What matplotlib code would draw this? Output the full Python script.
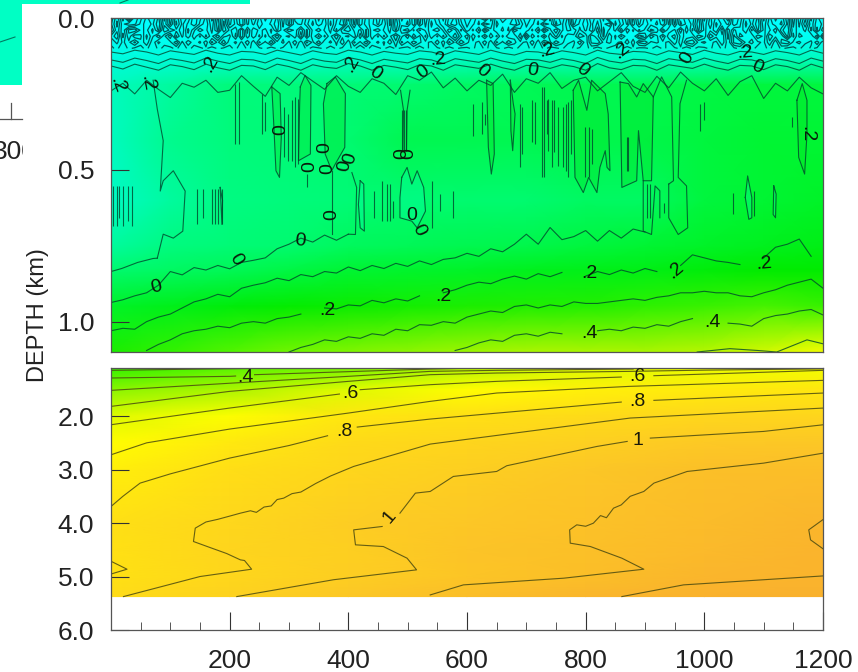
import numpy as np
import matplotlib
matplotlib.use('Agg')
import matplotlib.pyplot as plt
from matplotlib.colors import LinearSegmentedColormap, Normalize
from matplotlib.patches import Rectangle
from matplotlib.transforms import Bbox

plt.rcParams['font.family'] = ['Liberation Sans', 'DejaVu Sans']

W, H = 858, 672

# colour field, upper panel (depth in m, one row per depth, x every 100)
top_x = np.arange(0, 1201, 100)
top_depth = [0, 50, 90, 140, 220, 400, 600, 750, 830, 950, 1100]
top_field = [
    [-.5, -.5, -.5, -.5, -.5, -.5, -.5, -.5, -.5, -.5, -.5, -.5, -.5],
    [-.5, -.48, -.46, -.48, -.46, -.48, -.47, -.46, -.46, -.46, -.48, -.46, -.45],
    [-.42, -.38, -.38, -.38, -.36, -.38, -.36, -.36, -.36, -.36, -.36, -.36, -.36],
    [-.3, -.27, -.25, -.25, -.22, -.22, -.2, -.2, -.2, -.2, -.2, -.18, -.18],
    [-.2, -.12, -.03, -.03, -.02, .0, .02, .04, .05, .05, .07, .08, .08],
    [-.2, -.08, -.03, -.02, .0, .05, .05, .05, .06, .06, .08, .1, .1],
    [-.22, -.12, -.05, -.03, -.02, .0, .0, .0, .02, .02, .08, .1, .12],
    [-.12, -.04, -.02, .0, .03, .04, .05, .06, .08, .1, .12, .14, .16],
    [.0, .02, .04, .07, .1, .11, .12, .14, .15, .16, .18, .2, .2],
    [.12, .15, .18, .21, .23, .25, .27, .28, .29, .31, .33, .35, .33],
    [.27, .32, .37, .42, .44, .46, .48, .5, .5, .5, .52, .56, .62],
]

# colour field, lower panel (depth in km, x every 200)
low_x = np.arange(0, 1201, 200)
low_depth = [1.1, 1.5, 2.0, 2.5, 3.0, 4.0, 4.5, 5.0, 5.375]
low_field = [
    [.32, .38, .43, .52, .58, .60, .62],
    [.45, .50, .58, .66, .72, .75, .77],
    [.58, .64, .77, .81, .86, .90, .92],
    [.66, .76, .87, .92, .97, 1.03, 1.05],
    [.73, .83, .91, .98, 1.05, 1.1, 1.12],
    [.81, .90, 1.0, 1.05, 1.09, 1.14, 1.18],
    [.80, .92, .98, 1.07, 1.10, 1.15, 1.2],
    [.80, .90, .99, 1.06, 1.11, 1.18, 1.2],
    [.85, .95, 1.05, 1.12, 1.18, 1.24, 1.25],
]

# noisy near surface layer, one digit per 10 units of x
band_depth = [0, 20, 40, 60, 80, 100]
band_rows = [
    "2719036481927503618294071635829104736258190472618350927416830259174683025917480362519740826351907428163590274816350927164",
    "3820147592816304729185063746938215847169280563719460838527941360286795136028591473620851937462818539271460385927461839275",
    "1728956380247159638042917563840271695382046179538206147950382619475803261940587362914607385129460718352906471835920746182",
    "6917238405916273840561927384056291738405629173840592617384059261738450926173845029617384502961783450296718345029671834509",
    "4635847264593746285946372859463728594637285946372859643728596437285964372859643728956437289564372895643728956437289564372",
    "3424334243342433424334243342433424334243342433424334243342433424334243342433424334243342433424334243342433424334243342433",
]

wave1 = [112, 118, 106, 112, 122, 108, 114, 120, 106, 116, 122, 110, 112, 120, 106, 114, 122, 108, 116, 120, 106, 112, 122, 110, 116, 120, 108, 112, 122, 108, 114, 120, 106, 116, 122, 110, 112, 120, 108, 114, 122, 106, 116, 120, 110, 112, 122, 108, 114, 120, 106, 116, 122, 110, 112, 120, 108, 114, 122, 106, 116]
wave2 = [138, 146, 132, 140, 150, 134, 140, 148, 132, 142, 150, 136, 138, 148, 132, 140, 150, 134, 142, 146, 130, 138, 150, 136, 142, 148, 134, 138, 150, 134, 140, 146, 132, 142, 150, 136, 138, 146, 134, 140, 150, 130, 142, 148, 136, 138, 150, 134, 140, 146, 132, 142, 150, 136, 138, 148, 134, 140, 150, 132, 142]
wave3 = [158, 168, 152, 162, 172, 154, 160, 170, 152, 164, 172, 156, 158, 170, 152, 160, 172, 154, 162, 166, 150, 158, 172, 156, 162, 170, 154, 158, 172, 154, 160, 166, 152, 164, 172, 156, 158, 166, 154, 160, 172, 150, 164, 170, 156, 158, 172, 154, 160, 166, 152, 164, 172, 156, 158, 170, 154, 160, 172, 152, 164]
edge_top = [240, 215, 250, 205, 235, 262, 215, 228, 205, 245, 238, 190, 225, 258, 195, 222, 180, 208, 235, 190, 225, 245, 200, 215, 252, 190, 205, 178, 230, 198, 240, 205, 222, 185, 245, 200, 215, 180, 232, 205, 195, 240, 210, 180, 225, 245, 192, 230, 178, 215, 240, 200, 255, 210, 190, 265, 215, 240, 195, 230, 250]
line_zero = [937, 928, 915, 905, 880, 835, 846, 822, 830, 815, 826, 805, 798, 790, 760, 745, 725, 738, 715, 732, 712]
line_one = [1030, 1022, 1025, 1000, 985, 975, 955, 935, 925, 910, 918, 890, 880, 872, 857, 865, 845, 852, 835, 840, 820, 832, 815, 825, 808, 818, 800, 812, 795, 790, 775, 785, 760, 770, 745, 712, 745, 690, 730, 720, 700, 735, 700, 725, 695, 705]
line_two = [1095, 1075, 1060, 1040, 1030, 1025, 1015, 1020, 1005, 1000, 1005, 990, 985, 975, np.nan, 955, 958, 945, 948, 930, 938, 925, 932, 915, np.nan, 905, 895, 880, 870, 875, 860, 850, 860, 842, 852, 838, np.nan, 850, 835, 845, 830, 840, 825, 835, np.nan, 815, 780, 790, 800, 805, 812, np.nan, 790, 755, 745, 728, 785]
line_three = [1100, 1085, 1075, 1060, 1065, 1050, 1055, 1040, 1045, 1025, 1030, 1010, 1012, 1000, 1005, 985, 975, 965, 970, 950, 945, 955, 945, 950, 935, 940, 940, 935, 930, 925, 930, 920, 915, 905, 905, 900, 905, 905, 915, 918, 905, 895, 880, 870, 860, 890]
line_four = [1095, 1085, 1070, 1060, 1065, 1045, 1040, 1048, 1035, 1040, np.nan, np.nan, 1030, 1025, 1030, 1018, 1022, 1010, 1015, 1000, 990, np.nan, np.nan, 1005, 1008, 1015, 990, 980, 975, 965, 960, 978]
line_five_x = [988, 1043, 1090, 1122, 1173, 1200]
line_five = [1100, 1089, 1095, 1100, 1060, 1073]

# closed and open outlines in the middle of the upper panel (x, depth in m)
lobe_x = [
    [0, 18, 45, 71, 78, 78], [78, 88, 105, 121, 125, 105, 88, 83, 88, 78, 71],
    [271, 285, 287, 284, 278, 274, 271], [319, 327, 337, 336, 316, 318, 319],
    [364, 378, 395, 394, 378, 372, 361, 358, 364], [488, 493, 492], [504, 499, 498],
    [490, 499, 507, 516, 527, 530, 516, 507, 487, 487, 490], [400, 412, 414, 406], [372, 372],
    [420, 426, 427, 420, 417, 420], [633, 644, 646, 641, 636, 633], [673, 678, 681, 677, 674, 673],
    [779, 788, 802, 810, 833, 838, 841, 836, 833, 824, 819, 805, 796, 782, 779],
    [858, 872, 886, 897, 914, 911, 897, 889, 886, 861, 858], [914, 928, 945, 948, 940],
    [970, 959, 956, 970, 972, 956, 940, 940], [897, 897, 911, 917, 925, 925],
    [1069, 1073, 1080, 1080, 1075, 1069], [1117, 1121, 1120, 1116, 1117],
    [1156, 1165, 1173, 1173, 1169, 1159, 1156], [184, 188, 187, 184],
]
lobe_d = [
    [835, 825, 805, 792, 791, 791], [791, 712, 725, 702, 570, 503, 536, 570, 404, 300, 205],
    [227, 249, 393, 525, 503, 338, 227], [227, 189, 222, 448, 470, 282, 227],
    [216, 194, 249, 426, 481, 503, 448, 282, 216], [238, 304, 437], [238, 304, 437],
    [525, 492, 547, 503, 558, 636, 691, 669, 658, 592, 525], [712, 713, 558, 509], [503, 713],
    [536, 547, 702, 691, 614, 536], [205, 216, 448, 514, 426, 205], [205, 282, 316, 437, 371, 205],
    [238, 205, 304, 205, 249, 316, 503, 492, 437, 492, 575, 525, 575, 525, 238],
    [211, 216, 260, 216, 260, 536, 536, 371, 536, 558, 211], [260, 194, 260, 536, 547],
    [205, 282, 525, 553, 691, 713, 658, 547], [536, 702, 713, 553, 569, 658],
    [591, 520, 591, 658, 663, 591], [553, 580, 658, 647, 553],
    [271, 216, 271, 382, 514, 459, 271], [558, 600, 680, 558],
]
green_lobes = [2, 3, 4, 11, 12, 13, 14, 20]
pale_lobes = [7, 10, 18, 19]

spike_x = [3, 10, 14, 20, 28, 35, 145, 155, 170, 175, 180, 187, 209, 215, 254, 260, 291, 299, 305, 310, 315, 330,
           443, 457, 465, 471, 475, 490, 494, 497, 541, 555, 577, 610, 625, 630, 689, 692, 709, 715, 726, 729, 734,
           737, 743, 747, 753, 762, 767, 771, 775, 799, 805, 810, 869, 872, 903, 909, 932, 993, 999, 1049, 1083, 1148]
spike_top = [553, 553, 553, 553, 553, 553, 563, 563, 563, 563, 563, 563, 216, 211, 249, 277, 293, 316, 271, 260, 266, 514,
             569, 536, 547, 547, 603, 304, 304, 304, 536, 580, 569, 282, 277, 316, 282, 293, 271, 277, 227, 227, 271,
             266, 271, 271, 293, 293, 282, 277, 271, 360, 360, 365, 393, 393, 547, 547, 608, 282, 277, 575, 569, 326]
spike_bot = [685, 685, 660, 685, 670, 685, 680, 660, 680, 680, 680, 680, 415, 415, 382, 371, 459, 470, 470, 492, 481, 558,
             658, 669, 669, 669, 658, 437, 437, 437, 691, 636, 658, 387, 382, 354, 492, 448, 409, 415, 525, 525, 382,
             437, 492, 440, 487, 492, 503, 525, 448, 525, 525, 481, 503, 503, 658, 658, 641, 371, 337, 647, 652, 360]

# lower panel contours (x, depth in km)
c3_x, c3_d = [0, 150, 300], [1.144, 1.12, 1.10]
c4_x = [0, 200, 210, 226, 242, 538, 620]
c4_d = [1.287, 1.256, 1.25, np.nan, 1.225, 1.119, 1.10]
c45_x, c45_d = [0, 206, 400, 538, 650, 880], [1.518, 1.381, 1.256, 1.163, 1.144, 1.119]
c5_x, c5_d = [0, 200, 400, 538, 650, 875, 1000, 1201], [1.818, 1.537, 1.35, 1.225, 1.194, 1.163, 1.14, 1.115]
c6_x = [0, 200, 385, 403, 420, 538, 650, 860, 887, 915, 1201]
c6_d = [2.161, 1.849, 1.587, np.nan, 1.506, 1.412, 1.35, 1.269, np.nan, 1.244, 1.144]
c7_x, c7_d = [0, 60, 200, 400, 538, 650, 875, 1201], [2.723, 2.5, 2.242, 1.943, 1.724, 1.568, 1.443, 1.331]
c8_x = [0, 20, 49, 100, 200, 300, 365, 395, 415, 538, 860, 887, 915, 1201]
c8_d = [3.69, 3.5, 3.253, 3.08, 2.785, 2.55, 2.367, np.nan, 2.205, 2.055, 1.737, np.nan, 1.705, 1.568]
c9_x = [21, 150, 237, 225, 218, 195, 165, 139, 142, 160, 180, 200, 218, 235, 245, 258, 270, 280, 291, 305, 320, 345, 370, 409, 538, 875, 1201]
c9_d = [5.375, 5.0, 4.863, 4.70, 4.688, 4.57, 4.45, 4.345, 4.095, 3.98, 3.93, 3.87, 3.815, 3.77, 3.80, 3.70, 3.68, 3.56, 3.534, 3.45, 3.42, 3.26, 3.12, 2.941, 2.523, 2.036, 1.849]
c10_x = [212, 375, 515, 499, 459, 412, 409, 457, 470, 487, 513, 538, 577, 650, 667, 819, 870, 888, 909, 1100, 1201]
c10_d = [5.375, 5.06, 4.875, 4.657, 4.439, 4.407, 4.127, 4.064, np.nan, 3.815, 3.44, 3.409, 3.128, 3.035, 2.928, 2.567, 2.473, np.nan, 2.411, 2.286, 2.161]
c11_x = [538, 594, 763, 898, 861, 808, 774, 773, 785, 800, 813, 825, 835, 847, 860, 875, 898, 915, 971, 1100, 1201]
c11_d = [5.344, 5.156, 5.031, 4.863, 4.657, 4.439, 4.376, 4.127, 4.033, 4.06, 4.002, 3.86, 3.90, 3.721, 3.66, 3.50, 3.409, 3.253, 3.035, 2.879, 2.691]
c12_x, c12_d = [861, 965, 1100, 1201], [5.375, 5.156, 5.06, 4.988]
c13_x, c13_d = [1201, 1176, 1179, 1201], [3.927, 4.127, 4.314, 4.489]
c14_x, c14_d = [1, 27, 1], [4.72, 4.863, 4.95]

# contour labels
top_lab_x = [10, 61, 167, 406, 445, 526, 551, 625, 711, 735, 794, 861, 971, 1069, 1089, 286, 335, 361, 366, 394, 403, 490, 502, 372, 506, 519, 319, 211, 76, 364, 560, 807, 952, 1101, 1173, 806, 1013]
top_lab_d = [.222, .215, .152, .149, .182, .179, .139, .175, .172, .106, .172, .106, .132, .113, .162, .368, .49, .427, .497, .487, .464, .447, .447, .649, .652, .699, .735, .795, .887, .964, .917, .841, .831, .808, .381, 1.04, 1.003]
top_lab_txt = ['.2', '.2', '.2', '.2', '0', '0', '.2', '0', '0', '.2', '0', '.2', '0', '.2', '0', '0', '0', '0', '0', '0', '0', '0', '0', '0', '0', '0', '0', '0', '0', '.2', '.2', '.2', '.2', '.2', '.2', '.4', '.4']
top_lab_rot = [-70, -80, 60, 60, -35, 35, 5, -40, -10, 15, -40, 40, 60, 5, -25, 90, 90, 90, 90, 80, 75, 90, 90, 90, 0, -65, -5, -60, 15, 0, 0, 0, 40, 5, -90, 0, 0]
low_lab_x = [226, 403, 394, 470, 887, 887, 888]
low_lab_d = [1.281, 1.581, 2.292, 3.884, 1.262, 1.73, 2.461]
low_lab_txt = ['.4', '.6', '.8', '1', '.6', '.8', '1']
low_lab_rot = [0, 0, 0, 50, 0, 0, 0]

# value -> colour
cmap_val = [-.5, -.25, 0, .1, .2, .3, .4, .5, .6, .65, .8, 1.0, 1.2, 1.4]
cmap_rgb = [(0, 255, 255), (0, 250, 210), (0, 250, 110), (0, 245, 50), (0, 235, 0), (40, 240, 0), (100, 245, 0),
            (170, 245, 0), (235, 252, 0), (255, 255, 0), (255, 225, 20), (253, 205, 35), (250, 180, 45), (248, 170, 45)]
norm = Normalize(-.5, 1.4)
cmap = LinearSegmentedColormap.from_list('depth', [(norm(v), tuple(c / 255 for c in rgb)) for v, rgb in zip(cmap_val, cmap_rgb)], N=512)


def px_axes(x0, y0, x1, y1):
    return fig.add_axes([x0 / W, 1 - y1 / H, (x1 - x0) / W, (y1 - y0) / H])


def trace(ax, start, vals, **kw):
    xs = start + 20 * np.arange(len(vals))
    ax.plot(xs, np.array(vals, dtype=float) / 1000, **kw)


fig = plt.figure(figsize=(W / 100, H / 100), dpi=100)

# piece of the neighbouring figure left over in the corner
fig.patches.append(Rectangle((0, 1 - 85 / H), 22 / W, 85 / H, transform=fig.transFigure, fc='#00ffc4', ec='none'))
fig.patches.append(Rectangle((22 / W, 1 - 4 / H), 228 / W, 4 / H, transform=fig.transFigure, fc='#00ffc4', ec='none'))
fig.add_artist(plt.Line2D([0, 15 / W], [1 - 42 / H, 1 - 37 / H], color='#007a60', lw=.8))
fig.add_artist(plt.Line2D([120 / W, 128 / W], [1 - 3 / H, 1], color='#007a60', lw=.8))
fig.add_artist(plt.Line2D([0, 22 / W], [1 - 119 / H, 1 - 119 / H], color='#555555', lw=.9))
fig.add_artist(plt.Line2D([11 / W, 11 / W], [1 - 119 / H, 1 - 103 / H], color='#555555', lw=.9))
t = fig.text(15 / W, 1 - 152 / H, '300', ha='center', va='center', fontsize=19, color='#222222')
t.set_clip_box(Bbox([[0, 0], [23, H]]))
t.set_clip_on(True)

line_kw = dict(color='#00462c', lw=.8, alpha=.8)

# upper panel
ax = px_axes(111, 18, 823, 352)
ax.pcolormesh(top_x, np.array(top_depth) / 1000, np.array(top_field), cmap=cmap, norm=norm, shading='gouraud')
for i in green_lobes:
    ax.fill(lobe_x[i], np.array(lobe_d[i]) / 1000, color='#00e020', alpha=.3, lw=0)
for i in pale_lobes:
    ax.fill(lobe_x[i], np.array(lobe_d[i]) / 1000, color='#00ffb0', alpha=.3, lw=0)
n = min(len(r) for r in band_rows)
band = np.array([[int(c) for c in r[:n]] for r in band_rows], dtype=float)
ax.contour(np.linspace(0, 1200, n), np.array(band_depth) / 1000, band, levels=[1.5, 3.5, 5.5, 7.5], colors='#003c3c', linewidths=.9, alpha=.85)
for vals in (wave1, wave2, wave3, edge_top):
    trace(ax, 0, vals, **line_kw)
trace(ax, 0, line_zero, **line_kw)
trace(ax, 0, line_one, **line_kw)
trace(ax, 60, line_two, **line_kw)
trace(ax, 300, line_three, **line_kw)
trace(ax, 580, line_four, **line_kw)
ax.plot(line_five_x, np.array(line_five) / 1000, **line_kw)
for lx, ld in zip(lobe_x, lobe_d):
    ax.plot(lx, np.array(ld) / 1000, **line_kw)
ax.vlines(spike_x, np.array(spike_top) / 1000, np.array(spike_bot) / 1000, color='#00462c', lw=.8, alpha=.8)
for x, d, s, r in zip(top_lab_x, top_lab_d, top_lab_txt, top_lab_rot):
    ax.text(x, d, s, ha='center', va='center', rotation=r, fontsize=14, color='#0a1a0a')
ax.set_xlim(0, 1200)
ax.set_ylim(1.1, 0)
ax.set_xticks([])
ax.set_yticks([0, .5, 1.0], ['0.0', '0.5', '1.0'])

# lower panel
ax2 = px_axes(111, 368, 823, 630)
ax2.pcolormesh(low_x, low_depth, np.array(low_field), cmap=cmap, norm=norm, shading='gouraud')
line_kw2 = dict(color='#4a4a10', lw=.8, alpha=.85)
for cx, cd in [(c3_x, c3_d), (c4_x, c4_d), (c45_x, c45_d), (c5_x, c5_d), (c6_x, c6_d), (c7_x, c7_d), (c8_x, c8_d),
               (c9_x, c9_d), (c10_x, c10_d), (c11_x, c11_d), (c12_x, c12_d), (c13_x, c13_d), (c14_x, c14_d)]:
    ax2.plot(cx, cd, **line_kw2)
for x, d, s, r in zip(low_lab_x, low_lab_d, low_lab_txt, low_lab_rot):
    ax2.text(x, d, s, ha='center', va='center', rotation=r, fontsize=14, color='#1a1a0a')
ax2.set_xlim(0, 1200)
ax2.set_ylim(6.0, 1.1)
ax2.set_xticks(np.arange(200, 1201, 200), ['200', '400', '600', '800', '1000', '1200'])
ax2.set_xticks(np.arange(50, 1201, 50), minor=True)
ax2.set_yticks([2, 3, 4, 5, 6], ['2.0', '3.0', '4.0', '5.0', '6.0'])

for a in (ax, ax2):
    for s in a.spines.values():
        s.set_linewidth(.9)
        s.set_color('#555555')
    a.tick_params(axis='both', which='major', direction='in', length=13, width=.8, color='#333333', labelsize=19, pad=12, labelcolor='#222222')
    a.tick_params(axis='x', which='minor', direction='in', length=6, width=.7, color='#555555')
ax2.tick_params(axis='x', which='major', pad=13.5)

fig.text(38 / W, 1 - 315 / H, 'DEPTH (km)', rotation=90, ha='center', va='center', fontsize=17, color='#222222')

fig.savefig('out.png', dpi=100)
